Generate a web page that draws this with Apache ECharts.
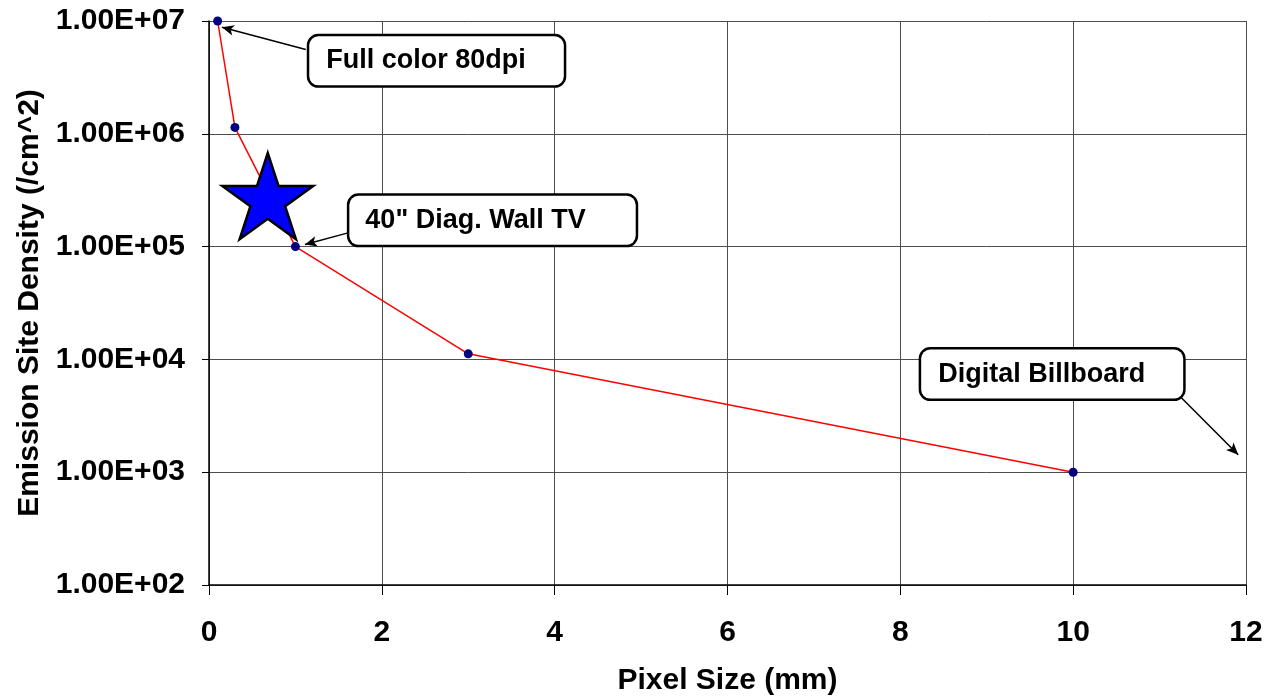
<!DOCTYPE html>
<html>
<head>
<meta charset="utf-8">
<script src="https://cdn.jsdelivr.net/npm/echarts@6/dist/echarts.min.js"></script>
<style>
  html, body { margin: 0; padding: 0; background: #fff; }
  #chart { width: 1266px; height: 700px; }
</style>
</head>
<body>
<div id="chart"></div>
<script>
// Pixel size (mm) against emission site density (/cm^2)
const pixelSize = [0.1, 0.3, 1, 3, 10];
const siteDensity = [1e7, 1.14e6, 1e5, 1.12e4, 1e3];

// Highlighted target point (star)
const starPoint = [0.68, 2.8e5];

// Callout texts, box centres and arrow tail -> tip, all in data units
const calloutText = ['Full color 80dpi', '40" Diag. Wall TV', 'Digital Billboard'];
const calloutCenter = [[2.633, 4.44e6], [3.281, 1.71e5], [9.757, 7.41e3]];
const arrowTail = [[1.12, 5.6e6], [1.62, 1.33e5], [11.18, 5.2e3]];
const arrowTip = [[0.15, 8.8e6], [1.11, 1.045e5], [11.91, 1.43e3]];

// Axis settings
const xMin = 0, xMax = 12, xStep = 2;
const yMin = 1e2, yMax = 1e7;

const FONT = '"Liberation Sans", Arial, Helvetica, sans-serif';
const calloutPadding = [[11, 38, 11, 17], [11, 50, 11, 16], [11, 38, 11, 17]];

const points = pixelSize.map((x, i) => [x, siteDensity[i]]);

function sci(v) {
  const e = Math.round(Math.log10(v));
  const m = v / Math.pow(10, e);
  const sign = e < 0 ? '-' : '+';
  const ea = Math.abs(e);
  return m.toFixed(2) + 'E' + sign + (ea < 10 ? '0' + ea : ea);
}

const chart = echarts.init(document.getElementById('chart'), null, { renderer: 'canvas' });

const axisText = { fontFamily: FONT, fontWeight: 'bold', fontSize: 30, color: '#000' };

chart.setOption({
  backgroundColor: '#fff',
  animation: false,
  grid: { left: 209, right: 20, top: 21, bottom: 115, containLabel: false, outerBoundsMode: 'none' },
  xAxis: {
    type: 'value',
    min: xMin, max: xMax, interval: xStep,
    name: 'Pixel Size (mm)',
    nameLocation: 'middle',
    nameGap: 81,
    nameTextStyle: axisText,
    axisLine: { show: true, onZero: false, lineStyle: { color: '#000', width: 1.5 } },
    axisTick: { show: true, inside: false, length: 10, lineStyle: { color: '#000', width: 1 } },
    axisLabel: Object.assign({ margin: 33 }, axisText),
    splitLine: { show: true, lineStyle: { color: '#4d4d4d', width: 1 } }
  },
  yAxis: {
    type: 'log',
    logBase: 10,
    min: yMin, max: yMax,
    name: 'Emission Site Density (/cm^2)',
    nameLocation: 'middle',
    nameGap: 162,
    nameTextStyle: axisText,
    axisLine: { show: true, lineStyle: { color: '#000', width: 1.5 } },
    axisTick: { show: true, inside: false, length: 7, lineStyle: { color: '#000', width: 1 } },
    minorTick: { show: false },
    axisLabel: Object.assign({ margin: 24, formatter: sci }, axisText),
    splitLine: { show: true, lineStyle: { color: '#4d4d4d', width: 1 } }
  },
  series: [
    {
      name: 'density-line',
      type: 'line',
      data: points,
      showSymbol: false,
      z: 2,
      lineStyle: { color: '#ff0000', width: 1.5 }
    },
    {
      name: 'target',
      type: 'scatter',
      data: [starPoint],
      z: 3,
      symbol: 'path://M100 0 L122.5 69.1 L195.1 69.1 L136.3 111.8 L158.8 180.9 L100 138.2 L41.2 180.9 L63.7 111.8 L4.9 69.1 L77.5 69.1 Z',
      symbolSize: [91, 86],
      itemStyle: { color: '#0000ff', borderColor: '#000', borderWidth: 2.5, opacity: 1 }
    },
    {
      name: 'density-points',
      type: 'scatter',
      data: points,
      z: 4,
      symbol: 'circle',
      symbolSize: 9,
      itemStyle: { color: '#000080', opacity: 1 },
      markLine: {
        silent: true,
        symbol: ['none', 'arrow'],
        symbolSize: [8, 12],
        label: { show: false },
        lineStyle: { color: '#000', width: 1.5, type: 'solid' },
        data: arrowTail.map((t, i) => [{ coord: t }, { coord: arrowTip[i] }])
      },
      markPoint: {
        silent: true,
        symbol: 'rect',
        symbolSize: 1,
        itemStyle: { color: 'rgba(0,0,0,0)' },
        data: calloutCenter.map((c, i) => ({
          coord: c,
          label: {
            show: true,
            position: 'inside',
            formatter: calloutText[i],
            fontFamily: FONT,
            fontWeight: 'bold',
            fontSize: 27,
            lineHeight: 27,
            color: '#000',
            backgroundColor: '#fff',
            borderColor: '#000',
            borderWidth: 2.5,
            borderRadius: 9,
            padding: calloutPadding[i],
            align: 'center',
            verticalAlign: 'middle'
          }
        }))
      }
    }
  ]
});
</script>
</body>
</html>
